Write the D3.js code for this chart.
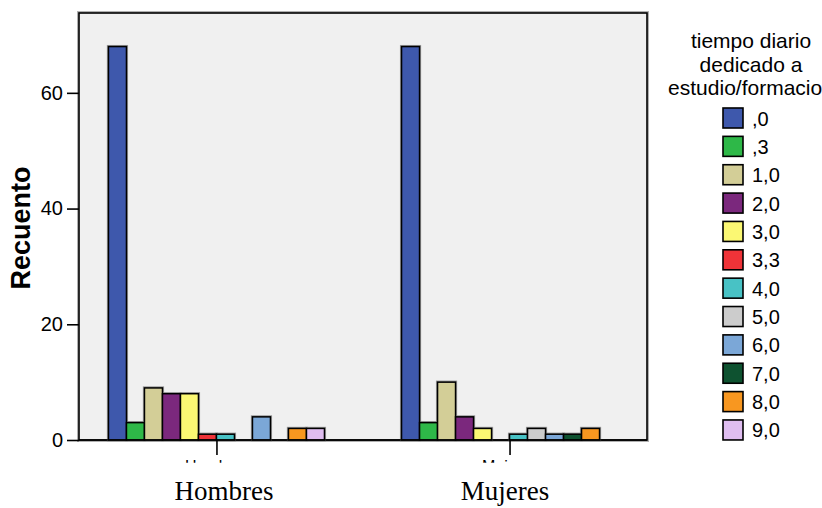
<!DOCTYPE html>
<html><head><meta charset="utf-8">
<script src="https://cdn.jsdelivr.net/npm/d3@7"></script>
<style>body{margin:0;background:#fff}svg{display:block}</style>
</head><body>
<svg id="c" width="822" height="508"></svg>
<script>
const groups = ["Hombres", "Mujeres"];
const seriesKeys = [",0", ",3", "1,0", "2,0", "3,0", "3,3", "4,0", "5,0", "6,0", "7,0", "8,0", "9,0"];
const seriesColors = ["#3e58ac", "#2eb848", "#d3ce97", "#7b287d", "#fbf873", "#ef3338", "#48c2c5", "#cccccc", "#7ba7d7", "#0e5230", "#f89720", "#dfbdf0"];
const hombres = [68, 3, 9, 8, 8, 1, 1, 0, 4, 0, 2, 2];
const mujeres = [68, 3, 10, 4, 2, 0, 1, 2, 1, 1, 2, 0];
const yTicks = [0, 20, 40, 60];
const legendTitle = ["tiempo diario", "dedicado a", "estudio/formacion"];
const yLabel = "Recuento";

const values = [hombres, mujeres];
const svg = d3.select("#c");
const L = 79, R = 647, T = 13, B = 440;

const x0 = d3.scalePoint().domain(groups).range([L, R]).padding(0.469);
const x1 = d3.scaleBand().domain(seriesKeys).range([-108, 108]).padding(0);
const y = d3.scaleLinear().domain([0, 73.8]).range([B, T]);
const color = d3.scaleOrdinal().domain(seriesKeys).range(seriesColors);

// frame
svg.append("rect").attr("x", L).attr("y", T).attr("width", R - L).attr("height", B - T)
  .attr("fill", "none").attr("stroke", "#b0b0b0").attr("stroke-width", 4);
svg.append("rect").attr("x", L).attr("y", T).attr("width", R - L).attr("height", B - T)
  .attr("fill", "#f0f0f0").attr("stroke", "#000").attr("stroke-width", 1.6);

// bars
const data = [];
groups.forEach((g, gi) => seriesKeys.forEach((k, ki) => data.push({g, k, v: values[gi][ki]})));
const bars = svg.append("g");
const nz = data.filter(d => d.v > 0);
bars.selectAll("rect.h").data(nz).join("rect")
  .attr("x", d => x0(d.g) + x1(d.k)).attr("y", d => y(d.v))
  .attr("width", x1.bandwidth()).attr("height", d => y(0) - y(d.v))
  .attr("fill", "none").attr("stroke", "#999").attr("stroke-width", 3.2);
bars.selectAll("rect.b").data(nz).join("rect")
  .attr("x", d => x0(d.g) + x1(d.k)).attr("y", d => y(d.v))
  .attr("width", x1.bandwidth()).attr("height", d => y(0) - y(d.v))
  .attr("fill", d => color(d.k)).attr("stroke", "#000").attr("stroke-width", 1.5);

// baseline
svg.append("line").attr("x1", L).attr("x2", R).attr("y1", B).attr("y2", B)
  .attr("stroke", "#000").attr("stroke-width", 1.6);

// y axis
const ya = svg.append("g").attr("transform", `translate(${L},0)`)
  .call(d3.axisLeft(y).tickValues(yTicks).tickSize(12).tickPadding(4).tickFormat(d3.format("d")));
ya.select(".domain").remove();
ya.selectAll("line").attr("stroke", "#000").attr("stroke-width", 1.6);
ya.selectAll("text").attr("font-family", "Liberation Sans, Arial, sans-serif").attr("font-size", 20).attr("fill", "#000");

svg.append("text").attr("transform", "translate(30,228) rotate(-90)")
  .attr("text-anchor", "middle").attr("font-family", "Liberation Sans, Arial, sans-serif")
  .attr("font-weight", "bold").attr("font-size", 27).text(yLabel);

// x axis ticks
const xa = svg.append("g").attr("transform", `translate(0,${B})`)
  .call(d3.axisBottom(x0).tickSize(15).tickFormat(""));
xa.select(".domain").remove();
xa.selectAll("line").attr("stroke", "#000").attr("stroke-width", 1.6);

// clipped small labels (only the tops show, as in the reference)
svg.append("clipPath").attr("id", "clipx").append("rect").attr("x", 0).attr("y", 456).attr("width", 822).attr("height", 6.8);
svg.append("g").attr("clip-path", "url(#clipx)").selectAll("text").data(groups).join("text")
  .attr("x", d => x0(d) + 1).attr("y", 472).attr("text-anchor", "middle")
  .attr("font-family", "Liberation Sans, Arial, sans-serif").attr("font-size", 16).text(d => d);

// big serif labels
const bigX = [224, 505];
svg.selectAll("text.big").data(groups).join("text").attr("class", "big")
  .attr("x", (d, i) => bigX[i]).attr("y", 500).attr("text-anchor", "middle")
  .attr("font-family", "Liberation Serif, Times New Roman, serif").attr("font-size", 27).text(d => d);

// legend
const lg = svg.append("g");
lg.selectAll("text.t").data(legendTitle).join("text").attr("class", "t")
  .attr("x", 751).attr("y", (d, i) => 48 + i * 23.5).attr("text-anchor", "middle")
  .attr("font-family", "Liberation Sans, Arial, sans-serif").attr("font-size", 21).text(d => d);
const li = lg.selectAll("g.i").data(seriesKeys).join("g").attr("class", "i")
  .attr("transform", (d, i) => `translate(723,${108 + i * 28.36})`);
li.append("rect").attr("width", 20).attr("height", 20).attr("fill", d => color(d))
  .attr("stroke", "#000").attr("stroke-width", 1.6);
li.append("text").attr("x", 29).attr("y", 17.5)
  .attr("font-family", "Liberation Sans, Arial, sans-serif").attr("font-size", 20).text(d => d);
</script>
</body></html>
